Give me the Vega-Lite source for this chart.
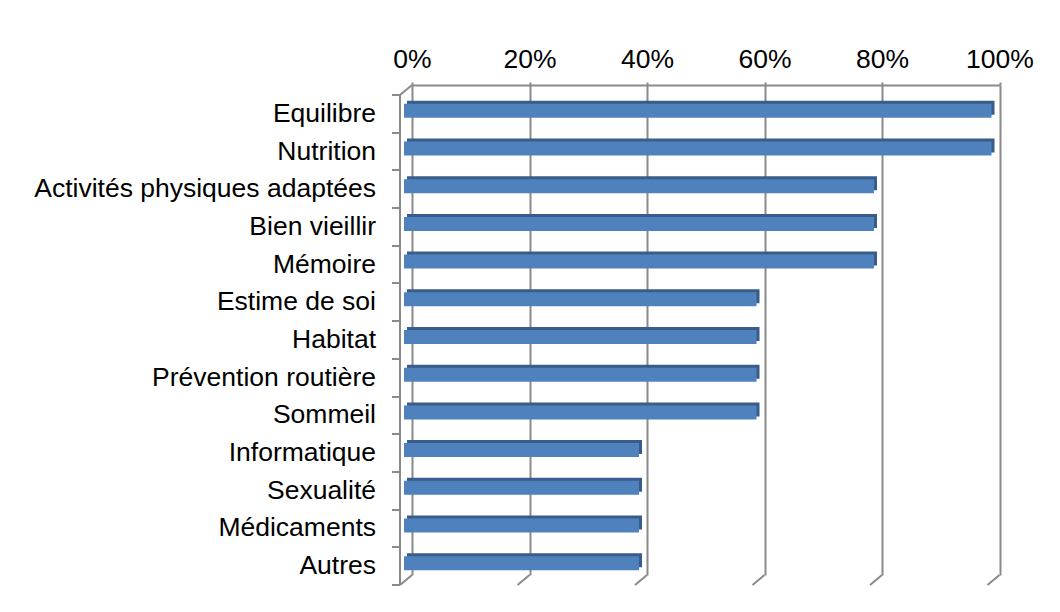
{
  "$schema": "https://vega.github.io/schema/vega-lite/v6.json",
  "width": 587.5,
  "height": 490,
  "autosize": "none",
  "padding": {"left": 412, "top": 85, "right": 60.5, "bottom": 37},
  "background": "white",
  "config": {"view": {"stroke": null}, "font": "Liberation Sans"},
  "datasets": {
    "themes": [
      {"theme": "Equilibre", "pct": 1.0},
      {"theme": "Nutrition", "pct": 1.0},
      {"theme": "Activités physiques adaptées", "pct": 0.8},
      {"theme": "Bien vieillir", "pct": 0.8},
      {"theme": "Mémoire", "pct": 0.8},
      {"theme": "Estime de soi", "pct": 0.6},
      {"theme": "Habitat", "pct": 0.6},
      {"theme": "Prévention routière", "pct": 0.6},
      {"theme": "Sommeil", "pct": 0.6},
      {"theme": "Informatique", "pct": 0.4},
      {"theme": "Sexualité", "pct": 0.4},
      {"theme": "Médicaments", "pct": 0.4},
      {"theme": "Autres", "pct": 0.4}
    ],
    "grid": [{"v": 0}, {"v": 0.2}, {"v": 0.4}, {"v": 0.6}, {"v": 0.8}, {"v": 1.0}]
  },
  "layer": [
    {
      "data": {"name": "grid"},
      "mark": {"type": "point", "shape": "M0,0L-1.2,1", "size": 400, "filled": false, "stroke": "#8a8a8a", "strokeWidth": 2, "opacity": 1},
      "encoding": {
        "x": {"field": "v", "type": "quantitative"},
        "y": {"datum": "Autres", "type": "nominal", "bandPosition": 1}
      }
    },
    {
      "data": {"name": "grid"},
      "transform": [{"filter": "datum.v == 0"}],
      "mark": {"type": "point", "shape": "M0,0L-1.2,1", "size": 400, "filled": false, "stroke": "#8a8a8a", "strokeWidth": 2, "opacity": 1},
      "encoding": {
        "x": {"field": "v", "type": "quantitative"},
        "y": {"datum": "Equilibre", "type": "nominal", "bandPosition": 0}
      }
    },
    {
      "data": {"name": "themes"},
      "mark": {"type": "bar", "color": "#385D8A", "size": 14, "xOffset": -5, "x2Offset": -5, "yOffset": 4, "y2Offset": 4},
      "encoding": {
        "x": {"field": "pct", "type": "quantitative"},
        "y": {"field": "theme", "type": "nominal"}
      }
    },
    {
      "data": {"name": "themes"},
      "mark": {"type": "bar", "color": "#4F81BD", "size": 14, "xOffset": -8, "x2Offset": -8, "yOffset": 7, "y2Offset": 7},
      "encoding": {
        "x": {
          "field": "pct", "type": "quantitative",
          "scale": {"domain": [0, 1], "nice": false, "zero": true},
          "axis": {
            "orient": "top", "title": null, "format": "~%", "values": [0, 0.2, 0.4, 0.6, 0.8, 1.0],
            "domain": true, "domainColor": "#8a8a8a", "domainWidth": 2,
            "ticks": true, "tickSize": 3, "tickColor": "#8a8a8a", "tickWidth": 2,
            "grid": true, "gridColor": "#8a8a8a", "gridWidth": 2,
            "labelFontSize": 26.5, "labelColor": "#000000", "labelBaseline": "alphabetic", "labelPadding": 15,
            "labelFlush": false, "labelOverlap": false
          }
        },
        "y": {
          "field": "theme", "type": "nominal",
          "scale": {"domain": ["Equilibre", "Nutrition", "Activités physiques adaptées", "Bien vieillir", "Mémoire", "Estime de soi", "Habitat", "Prévention routière", "Sommeil", "Informatique", "Sexualité", "Médicaments", "Autres"], "paddingInner": 0, "paddingOuter": 0},
          "axis": {
            "orient": "left", "title": null, "offset": 22, "translate": 10,
            "domain": true, "domainColor": "#8a8a8a", "domainWidth": 2,
            "ticks": true, "tickBand": "extent", "tickSize": 8, "tickColor": "#8a8a8a", "tickWidth": 2,
            "grid": false,
            "labelFontSize": 26.5, "labelColor": "#000000", "labelPadding": 16, "labelLimit": 0
          }
        }
      }
    }
  ]
}
